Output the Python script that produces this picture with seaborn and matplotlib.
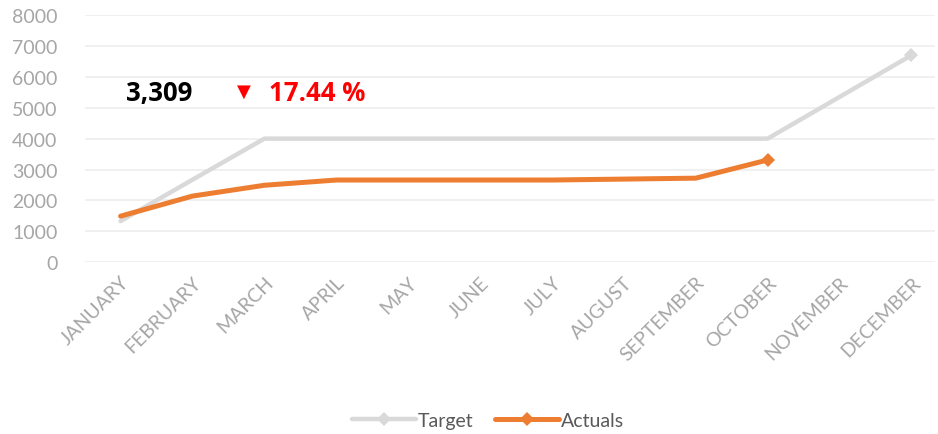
import pandas as pd
import matplotlib.pyplot as plt
import seaborn as sns
from matplotlib.lines import Line2D

months = ["JANUARY", "FEBRUARY", "MARCH", "APRIL", "MAY", "JUNE", "JULY",
          "AUGUST", "SEPTEMBER", "OCTOBER", "NOVEMBER", "DECEMBER"]
target = [1330, 2670, 4000, 4000, 4000, 4000, 4000, 4000, 4000, 4000, 5350, 6700]
actuals = [1490, 2140, 2490, 2660, 2660, 2660, 2660, 2690, 2720, 3309]
headline = "3,309"
change = "17.44 %"

grey = "#D9D9D9"
orange = "#ED7D31"
tick_grey = "#A6A6A6"

df = pd.concat([
    pd.DataFrame({"month": range(len(target)), "value": target, "series": "Target"}),
    pd.DataFrame({"month": range(len(actuals)), "value": actuals, "series": "Actuals"}),
])

sns.set_theme(style="white")
plt.rcParams["font.family"] = ["Lato", "DejaVu Sans"]

fig = plt.figure(figsize=(9.38, 4.35), dpi=100)
ax = fig.add_axes([0.091, 0.395, 0.906, 0.568])

sns.lineplot(data=df, x="month", y="value", hue="series",
             palette={"Target": grey, "Actuals": orange},
             hue_order=["Target", "Actuals"], ax=ax, legend=False,
             marker="D", markevery=[-1], markersize=7, markeredgewidth=0)
for line, lw in zip(ax.lines, [3.2, 3.6]):
    line.set_linewidth(lw)
ax.lines[1].set_zorder(3)

ax.set_ylim(0, 8000)
ax.set_yticks(range(0, 8001, 1000))
ax.set_xlim(-0.49, 11.33)
ax.set_xticks(range(len(months)))
ax.set_xticklabels(months, rotation=45, ha="right", rotation_mode="anchor")
ax.tick_params(axis="both", colors=tick_grey, labelsize=14, length=0)
ax.tick_params(axis="x", pad=8)
ax.tick_params(axis="y", pad=20)
ax.set_xlabel("")
ax.set_ylabel("")
ax.grid(axis="y", color="#EEEEEE", linewidth=1.2)
ax.set_axisbelow(True)
sns.despine(ax=ax, left=True, bottom=True)

# headline figures
bold_font = ["Open Sans", "DejaVu Sans"]
fig.text(0.134, 0.785, headline, fontsize=18.5, fontweight="bold", color="black",
         va="center", ha="left", family=bold_font)
fig.text(0.260, 0.788, "\u25BC", fontsize=13, color="red", va="center", ha="center",
         family=["DejaVu Sans"])
fig.text(0.287, 0.785, change, fontsize=18.5, fontweight="bold", color="red",
         va="center", ha="left", family=bold_font)

handles = [Line2D([0, 1], [0, 0], color=grey, lw=3.2, marker="D", markersize=7,
                  markeredgewidth=0, markevery=[1]),
           Line2D([0, 1], [0, 0], color=orange, lw=3.6, marker="D", markersize=7,
                  markeredgewidth=0, markevery=[1])]
fig.legend(handles, ["Target", "Actuals"], loc="center", bbox_to_anchor=(0.52, 0.032),
           ncol=2, frameon=False, fontsize=14, labelcolor="#595959",
           handlelength=3.3, handletextpad=0.1, columnspacing=1.1)

fig.savefig("out.png", dpi=100)
